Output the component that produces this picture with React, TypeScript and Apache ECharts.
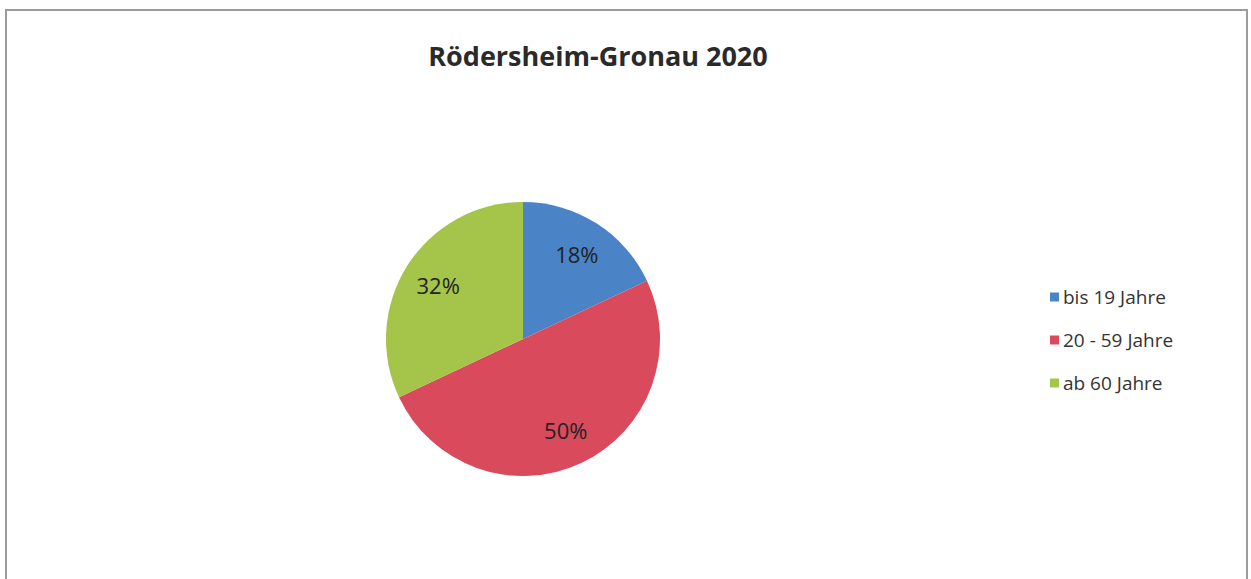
import React, { useEffect, useRef } from "react";
import * as echarts from "echarts";

const titleText = "Rödersheim-Gronau 2020";
const categories = ["bis 19 Jahre", "20 - 59 Jahre", "ab 60 Jahre"];
const values = [18, 50, 32];
const colors = ["#4a84c6", "#d94a5c", "#a5c44a"];

export default function App() {
  const ref = useRef<HTMLDivElement>(null);
  useEffect(() => {
    if (!ref.current) return;
    const chart = echarts.init(ref.current, undefined, { renderer: "svg" });
    const data = categories.map((name, i) => ({
      name,
      value: values[i],
      itemStyle: { color: colors[i] },
    }));
    const center = [523, 339];
    chart.setOption({
      animation: false,
      backgroundColor: "#ffffff",
      title: {
        text: titleText,
        left: 593,
        top: 37,
        textAlign: "center",
        textStyle: {
          fontFamily: "Open Sans",
          fontWeight: "bold",
          fontSize: 27,
          color: "#2a2a2a",
        },
      },
      legend: {
        orient: "vertical",
        left: 1045,
        top: 281,
        itemWidth: 9,
        itemHeight: 9,
        itemGap: 21,
        icon: "rect",
        data: categories,
        textStyle: {
          fontFamily: "Open Sans",
          fontSize: 19,
          lineHeight: 22,
          color: "#333333",
          padding: [0, 0, 0, -1],
        },
      },
      graphic: [
        {
          type: "rect",
          shape: { x: 6, y: 10, width: 1241, height: 620 },
          style: { fill: "none", stroke: "#9c9c9c", lineWidth: 2 },
          silent: true,
        },
      ],
      series: [
        {
          type: "pie",
          center,
          radius: 137,
          startAngle: 90,
          clockwise: true,
          label: { show: false },
          labelLine: { show: false },
          itemStyle: { borderWidth: 0 },
          emphasis: { disabled: true },
          data,
        },
        {
          type: "pie",
          center,
          radius: [58, 137],
          startAngle: 90,
          clockwise: true,
          silent: true,
          itemStyle: { color: "transparent", borderWidth: 0 },
          label: {
            show: true,
            position: "inside",
            formatter: "{c}%",
            fontFamily: "Open Sans",
            fontSize: 22,
            color: "#222222",
          },
          labelLine: { show: false },
          emphasis: { disabled: true },
          data: categories.map((name, i) => ({ name, value: values[i] })),
        },
      ],
    });
    return () => chart.dispose();
  }, []);
  return (
    <div
      ref={ref}
      style={{ position: "fixed", left: 0, top: 0, width: 1251, height: 579 }}
    />
  );
}
